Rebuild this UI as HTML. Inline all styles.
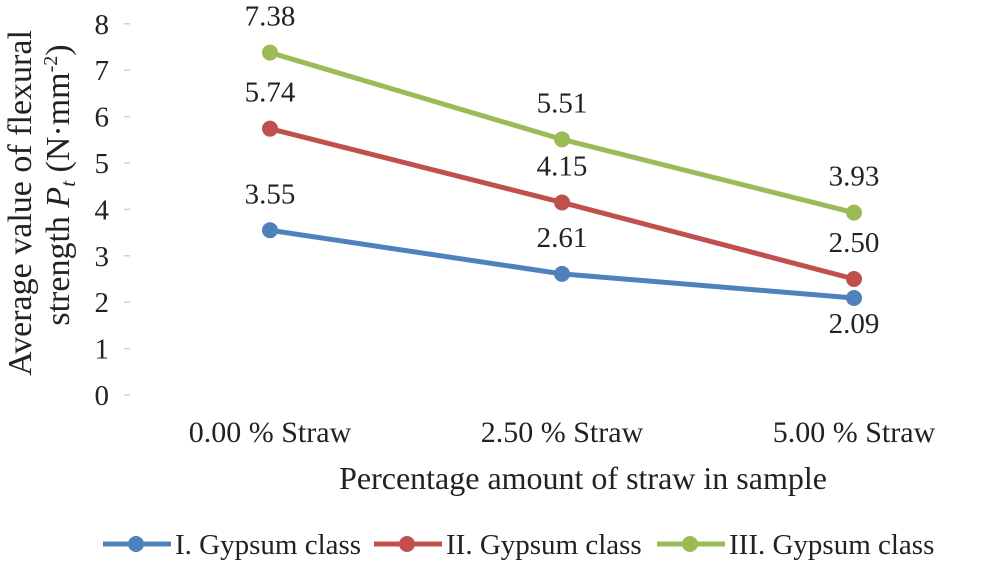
<!DOCTYPE html>
<html><head><meta charset="utf-8"><style>
body{margin:0;background:#fff}
svg text{font-family:"Liberation Serif",serif;fill:#222}
</style></head><body>
<svg id="chart" width="1000" height="560">
<g id="yticks"></g><g id="xlabels"></g><g id="series"></g>
<text x="583" y="489" font-size="32" text-anchor="middle">Percentage amount of straw in sample</text>
<g font-size="34" text-anchor="middle">
<text transform="translate(31,203) rotate(-90)">Average value of flexural</text>
<text transform="translate(69,185) rotate(-90)" font-size="34">strength <tspan font-style="italic">P</tspan><tspan font-style="italic" font-size="21" dy="6">t</tspan><tspan dy="-6"> (N·mm</tspan><tspan font-size="20" dy="-12">-2</tspan><tspan dy="12">)</tspan></text>
</g>
<g id="legend"></g>
</svg>
<script>
const categories=["0.00 % Straw","2.50 % Straw","5.00 % Straw"];
const seriesNames=["I. Gypsum class","II. Gypsum class","III. Gypsum class"];
const seriesI=[3.55,2.61,2.09];
const seriesII=[5.74,4.15,2.50];
const seriesIII=[7.38,5.51,3.93];
const yTicks=[0,1,2,3,4,5,6,7,8];
const colors=["#4f81bd","#c0504d","#9bbb59"];
const labelBelow=[[false,false,true],[false,false,false],[false,false,false]];
const NS="http://www.w3.org/2000/svg";
const y=v=>395-v*46.4;
const x=i=>124+292*(i+0.5);
function mk(t,a,p){const e=document.createElementNS(NS,t);for(const k in a)e.setAttribute(k,a[k]);p.appendChild(e);return e;}
const yt=document.getElementById('yticks');
yTicks.forEach(v=>{const t=mk('text',{x:109,y:y(v)+10,'font-size':29,'text-anchor':'end'},yt);t.textContent=v;


const m=mk('line',{x1:124,x2:130,y1:y(v),y2:y(v),stroke:'#d0d0d0','stroke-width':1.5},yt);

});
const xl=document.getElementById('xlabels');
categories.forEach((c,i)=>{const t=mk('text',{x:x(i),y:442,'font-size':30,'text-anchor':'middle'},xl);t.textContent=c;

});
const sg=document.getElementById('series');
[seriesI,seriesII,seriesIII].forEach((s,si)=>{
const g=mk('g',{},sg);


const l=mk('polyline',{points:s.map((v,i)=>x(i)+','+y(v)).join(' '),fill:'none',stroke:colors[si],'stroke-width':5},g);


s.forEach((v,i)=>{const c=mk('circle',{cx:x(i),cy:y(v),r:8,fill:colors[si]},g);


const below=labelBelow[si][i];
const t=mk('text',{x:x(i),y:below?y(v)+35:y(v)-27,'font-size':29,'text-anchor':'middle'},g);t.textContent=v.toFixed(2);

});
});
const lg=document.getElementById('legend');
const lx=[103,374,657];
const tx=[175,446,729];
seriesNames.forEach((n,i)=>{const g=mk('g',{},lg);


mk('line',{x1:lx[i],x2:lx[i]+68,y1:544,y2:544,stroke:colors[i],'stroke-width':5},g);
mk('circle',{cx:lx[i]+33,cy:544,r:8,fill:colors[i]},g);
const t=mk('text',{x:tx[i],y:554,'font-size':29},g);t.textContent=n;});
</script>
</body></html>
